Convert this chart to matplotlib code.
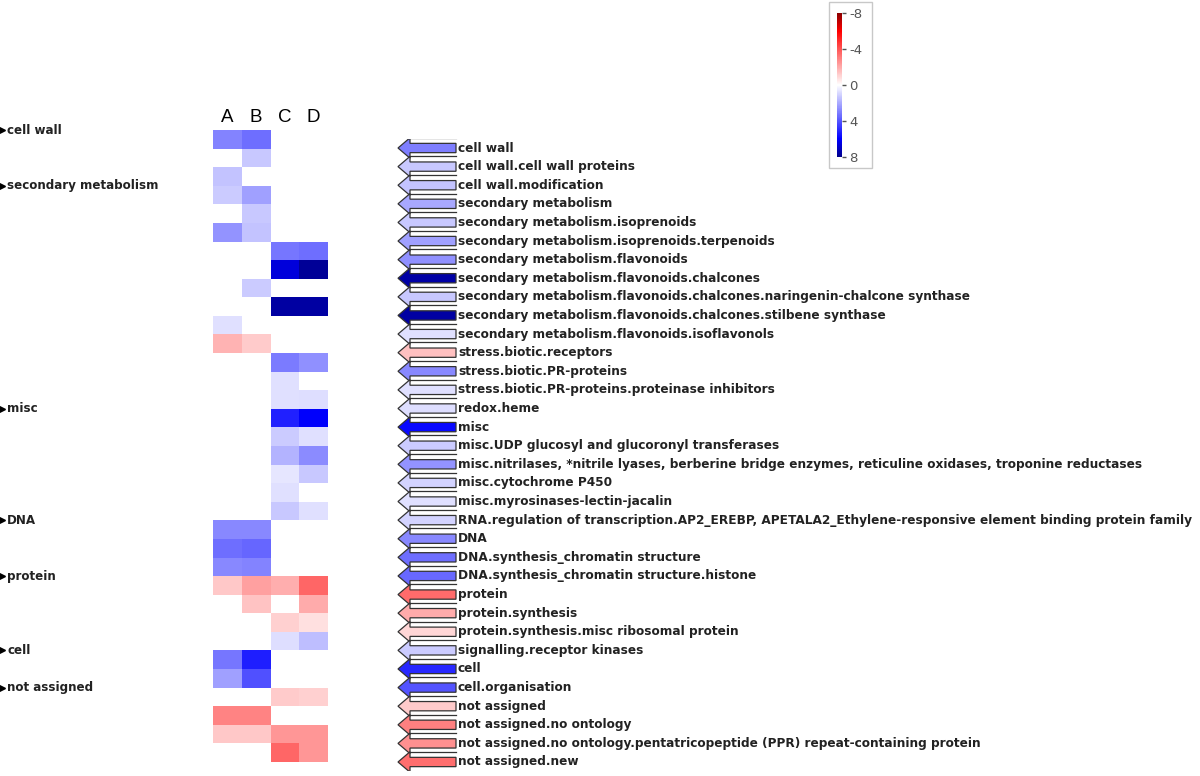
import numpy as np
import matplotlib
matplotlib.use('Agg')
import matplotlib.pyplot as plt
import matplotlib.transforms as mtransforms
from matplotlib.colors import LinearSegmentedColormap, Normalize
from matplotlib.cm import ScalarMappable
from matplotlib.patches import Polygon, Rectangle

plt.rcParams['axes.unicode_minus'] = False
nan = np.nan

# --- data (positive = blue / down, negative = red / up) ---
columns = ['A', 'B', 'C', 'D']

bins = [
    'cell wall',
    'cell wall.cell wall proteins',
    'cell wall.modification',
    'secondary metabolism',
    'secondary metabolism.isoprenoids',
    'secondary metabolism.isoprenoids.terpenoids',
    'secondary metabolism.flavonoids',
    'secondary metabolism.flavonoids.chalcones',
    'secondary metabolism.flavonoids.chalcones.naringenin-chalcone synthase',
    'secondary metabolism.flavonoids.chalcones.stilbene synthase',
    'secondary metabolism.flavonoids.isoflavonols',
    'stress.biotic.receptors',
    'stress.biotic.PR-proteins',
    'stress.biotic.PR-proteins.proteinase inhibitors',
    'redox.heme',
    'misc',
    'misc.UDP glucosyl and glucoronyl transferases',
    'misc.nitrilases, *nitrile lyases, berberine bridge enzymes, reticuline oxidases, troponine reductases',
    'misc.cytochrome P450',
    'misc.myrosinases-lectin-jacalin',
    'RNA.regulation of transcription.AP2_EREBP, APETALA2_Ethylene-responsive element binding protein family',
    'DNA',
    'DNA.synthesis_chromatin structure',
    'DNA.synthesis_chromatin structure.histone',
    'protein',
    'protein.synthesis',
    'protein.synthesis.misc ribosomal protein',
    'signalling.receptor kinases',
    'cell',
    'cell.organisation',
    'not assigned',
    'not assigned.no ontology',
    'not assigned.no ontology.pentatricopeptide (PPR) repeat-containing protein',
    'not assigned.new',
]

col_a = [2.9, nan, 1.4, 1.2, nan, 2.5, nan, nan, nan, nan, 0.7, -1.8,
         nan, nan, nan, nan, nan, nan, nan, nan, nan,
         2.8, 3.4, 2.8, -1.3, nan, nan, nan, 3.2, 2.2, nan, -2.9, -1.3, nan]
col_b = [3.4, 1.3, nan, 2.2, 1.3, 1.4, nan, nan, 1.2, nan, nan, -1.2,
         nan, nan, nan, nan, nan, nan, nan, nan, nan,
         2.8, 3.6, 2.9, -2.2, -1.4, nan, nan, 5.3, 4.1, nan, -2.9, -1.3, nan]
col_c = [nan, nan, nan, nan, nan, nan, 3.2, 6.6, nan, 7.6, nan, nan,
         3.1, 0.7, 0.7, 5.2, 1.2, 1.8, 0.6, 0.7, 1.3,
         nan, nan, nan, -1.9, nan, -1.1, 0.8, nan, nan, -1.2, nan, -2.5, -3.6]
col_d = [nan, nan, nan, nan, nan, nan, 3.4, 7.8, nan, 7.6, nan, nan,
         2.6, nan, 0.8, 6.0, 0.7, 2.7, 1.3, nan, 0.7,
         nan, nan, nan, -3.6, -2.0, -0.7, 1.5, nan, nan, -1.1, nan, -2.5, -2.5]

arrow_vals = [3.0, 1.3, 1.4, 2.0, 1.3, 2.2, 2.6, 7.5, 1.3, 7.6, 0.7, -1.5,
              2.8, 0.7, 0.8, 5.8, 1.2, 2.5, 1.0, 0.7, 1.0,
              2.8, 3.4, 3.5, -3.5, -2.0, -1.0, 1.2, 5.0, 4.0, -1.2, -3.0, -2.6, -3.4]

groups = ['cell wall', 'secondary metabolism', 'misc', 'DNA', 'protein', 'cell', 'not assigned']
group_rows = [0, 3, 15, 21, 24, 28, 30]

cbar_ticks = [-8, -4, 0, 4, 8]

# --- style ---
cmap = LinearSegmentedColormap.from_list(
    'rwb', [(0.0, '#8c0000'), (0.125, '#ff0000'), (0.5, '#ffffff'),
            (0.875, '#0000ff'), (1.0, '#00008c')])
norm = Normalize(-8, 8)

W, H = 1200, 776
fig = plt.figure(figsize=(12, 7.76), dpi=100)


def frac(x0, y0, x1, y1):
    return [x0 / W, 1 - y1 / H, (x1 - x0) / W, (y1 - y0) / H]


# heatmap
ax = fig.add_axes(frac(213, 130, 328, 762))
data = np.array([col_a, col_b, col_c, col_d]).T
ax.pcolormesh(np.ma.masked_invalid(data), cmap=cmap, norm=norm)
ax.set_xlim(0, len(columns))
ax.set_ylim(len(bins), 0)
ax.xaxis.tick_top()
ax.set_xticks(np.arange(len(columns)) + 0.5, columns, fontsize=13.5,
              family='Liberation Sans')
ax.tick_params(length=0, pad=3)
ax.set_yticks([])
for s in ax.spines.values():
    s.set_visible(False)

# group labels on the left
tr = mtransforms.blended_transform_factory(fig.transFigure, ax.transData)
for name, r in zip(groups, group_rows):
    ax.plot(2 / W, r, marker='>', ms=5, color='black', transform=tr, clip_on=False)
    ax.text(7 / W, r, name, transform=tr, va='center', ha='left',
            fontsize=8.6, fontweight='bold', color='#222222')

# arrows + bin names
ax2 = fig.add_axes(frac(390, 138.7, 1200, 771.3))
ax2.set_xlim(390, 1200)
ax2.set_ylim(len(bins) - 0.5, -0.5)
ax2.axis('off')

tip, base, end = 398, 410, 456
hh, bh = 0.55, 0.25
for i, (name, v) in enumerate(zip(bins, arrow_vals)):
    pts = [(tip, i), (base, i - hh), (base, i - bh), (end, i - bh),
           (end, i + bh), (base, i + bh), (base, i + hh)]
    ax2.add_patch(Polygon(pts, closed=True, facecolor=cmap(norm(v)),
                          edgecolor='#333333', lw=0.9))
    ax2.plot([base, end], [i - hh, i - hh], color='#333333', lw=0.9)
    ax2.text(end + 2, i, name, va='center', ha='left', fontsize=8.7,
             fontweight='bold', color='#222222')

# colour bar
fig.patches.append(Rectangle((829 / W, 1 - 168 / H), 43 / W, 166 / H,
                             transform=fig.transFigure, fill=False,
                             edgecolor='#c8c8c8', lw=1))
cax = fig.add_axes(frac(837, 13, 842, 157))
cb = fig.colorbar(ScalarMappable(norm=norm, cmap=cmap), cax=cax, ticks=cbar_ticks)
cax.invert_yaxis()
cb.outline.set_visible(False)
cax.tick_params(length=3, width=1, color='#555555', labelsize=9.5,
                labelcolor='#555555', pad=2)

fig.savefig('out.png', dpi=100)
